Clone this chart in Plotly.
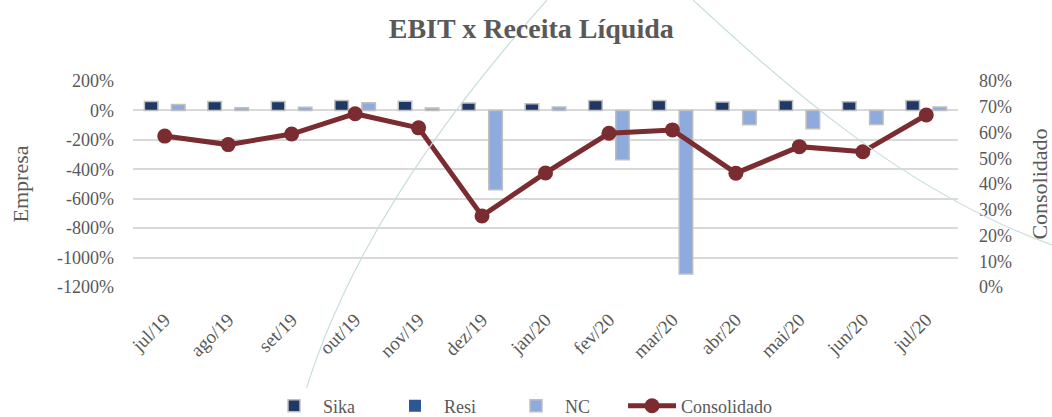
"""EBIT x Receita Líquida — barras por empresa + linha consolidada."""
import plotly.graph_objects as go

MESES = ["jul/19", "ago/19", "set/19", "out/19", "nov/19", "dez/19", "jan/20",
         "fev/20", "mar/20", "abr/20", "mai/20", "jun/20", "jul/20"]
SIKA = [61, 61, 61, 68, 63, 50, 45, 68, 68, 57, 68, 59, 68]
RESI = [0, 0, 0, 0, 0, 0, 0, 0, 0, 0, 0, 0, 0]
NC = [41, 18, 22, 52, 16, -539, 23, -335, -1111, -98, -125, -95, 23]
CONSOLIDADO = [58.6, 55.3, 59.4, 67.3, 61.8, 27.6, 44.3, 59.7, 61.0, 44.2, 54.5, 52.5, 66.8]

EMPRESA_TICKS = list(range(-1200, 201, 200))
CONSOL_TICKS = list(range(0, 81, 10))

FONT = "Liberation Serif"
GREY = "#595959"
W, H = 1052, 417
L, R, T, B = 133, 958, 81, 287  # área do gráfico em px


def _px(x, y):
    """px da página → coordenadas paper."""
    return f"{(x - L) / (R - L):.4f},{(B - y) / (B - T):.4f}"


fig = go.Figure()
bar_line = dict(color="#BFBFBF", width=1.5)
fig.add_trace(go.Bar(x=MESES, y=SIKA, name="Sika",
                     marker=dict(color="#1F3864", line=bar_line)))
fig.add_trace(go.Bar(x=MESES, y=RESI, name="Resi",
                     marker=dict(color="#2F5597", line=dict(width=0))))
fig.add_trace(go.Bar(x=MESES, y=NC, name="NC",
                     marker=dict(color="#8FAADC", line=bar_line)))
fig.add_trace(go.Scatter(
    x=MESES, y=CONSOLIDADO, name="Consolidado", yaxis="y2", legend="legend2",
    mode="lines+markers",
    line=dict(color="#7B2C30", width=5),
    marker=dict(color="#7B2C30", size=15),
))

# arcos decorativos claros que cruzam a imagem original
for path in (
    f"M {_px(547, 0)} C {_px(440, 120)} {_px(340, 260)} {_px(298, 417)}",
    f"M {_px(693, 0)} C {_px(780, 80)} {_px(900, 190)} {_px(1052, 245)}",
):
    fig.add_shape(type="path", path=path, xref="paper", yref="paper",
                  line=dict(color="#C9DEDD", width=1.2), layer="above")

legend_common = dict(orientation="h", xanchor="left", y=-0.578, yanchor="middle",
                     font=dict(size=18, color=GREY), itemwidth=48)

fig.update_layout(
    width=W, height=H,
    title=dict(text="<b>EBIT x Receita Líquida</b>", x=0.505, xanchor="center",
               y=0.932, yanchor="middle",
               font=dict(family=FONT, size=28, color=GREY)),
    font=dict(family=FONT, size=18, color=GREY),
    barmode="group", bargap=0.36, bargroupgap=0.0,
    xaxis=dict(range=[-0.5, len(MESES) - 0.5], tickangle=-45,
               showgrid=False, showline=False, ticks="",
               automargin=False, ticklabelstandoff=17,
               tickfont=dict(size=19, color=GREY)),
    yaxis=dict(range=[-1200, 200], tickvals=EMPRESA_TICKS,
               ticktext=[f"{v}%" for v in EMPRESA_TICKS],
               showgrid=True, gridcolor="#D9D9D9", gridwidth=1.5,
               zeroline=True, zerolinecolor="#D9D9D9", zerolinewidth=1.5,
               automargin=False, ticklabelstandoff=18,
               title=dict(text="Empresa", font=dict(size=22, color=GREY), standoff=22),
               tickfont=dict(size=18, color=GREY)),
    yaxis2=dict(range=[0, 80], tickvals=CONSOL_TICKS,
                ticktext=[f"{v}%" for v in CONSOL_TICKS],
                overlaying="y", side="right", showgrid=False, zeroline=False,
                automargin=False, ticklabelstandoff=20,
                title=dict(text="Consolidado", font=dict(size=22, color=GREY), standoff=22),
                tickfont=dict(size=18, color=GREY)),
    legend=dict(x=0.16, entrywidth=58, traceorder="normal", **legend_common),
    legend2=dict(x=0.594, **legend_common),
    paper_bgcolor="white", plot_bgcolor="white",
    margin=dict(l=L, r=W - R, t=T, b=H - B, autoexpand=False),
)

fig.write_html("out.html", config={"displayModeBar": False},
               post_script="document.body.style.margin='0';")
